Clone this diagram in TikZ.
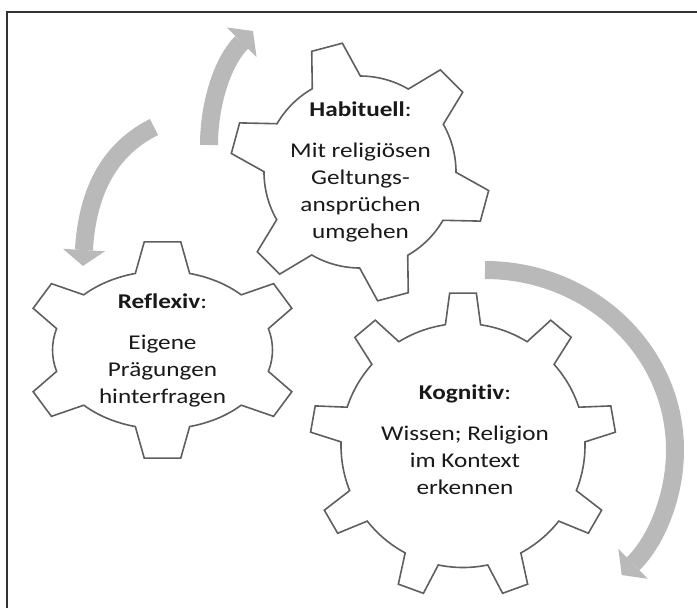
\documentclass[tikz,border=0pt]{standalone}
\usepackage{fontspec}
\setmainfont{Carlito}[FakeStretch=1.2, Ligatures={TeX,NoCommon}]
\usetikzlibrary{arrows.meta}
\definecolor{arrowgray}{RGB}{185,185,185}
\definecolor{gearline}{RGB}{95,95,95}
\definecolor{framecol}{RGB}{50,50,50}
\definecolor{textcol}{RGB}{25,25,25}
% #1 cx, #2 cy, #3 rx, #4 ry, #5 tooth depth, #6 teeth, #7 phase, #8 base half angle, #9 tip half angle
\newcommand\mygear[9]{%
  \draw[gearstyle] ({#1+#3*cos(#7+#8)},{#2-#4*sin(#7+#8)})
  \foreach \k in {1,...,#6}{
    -- ({#1+(#3+#5)*cos(#7-(\k-1)*360/#6+#9)},{#2-(#4+#5)*sin(#7-(\k-1)*360/#6+#9)})
    -- ({#1+(#3+#5)*cos(#7-(\k-1)*360/#6-#9)},{#2-(#4+#5)*sin(#7-(\k-1)*360/#6-#9)})
    -- ({#1+#3*cos(#7-(\k-1)*360/#6-#8)},{#2-#4*sin(#7-(\k-1)*360/#6-#8)})
    arc[start angle={-(#7-(\k-1)*360/#6-#8)}, end angle={-(#7-\k*360/#6+#8)}, x radius=#3, y radius=#4]
  } -- cycle;
}
\begin{document}
\begin{tikzpicture}[x=0.75pt,y=-0.75pt,
  gearstyle/.style={draw=gearline, line width=1.2pt, fill=white, line join=miter},
  arrowstyle/.style={arrowgray, line width=13.5pt, -{Triangle[width=31.5pt,length=12pt,line width=0pt]}},
  gtext/.style={align=center, inner sep=0pt, text=textcol, font=\fontsize{15.75pt}{20.25pt}\selectfont},
  frameline/.style={draw=framecol, line width=1.9pt}]
\useasboundingbox (0,0) rectangle (697,608);
% frame
\coordinate (fbl) at (7,608);
\coordinate (ftl) at (7,12);
\coordinate (ftr) at (697,12);
\draw[frameline] (fbl) -- (ftl) -- (ftr);
% arrows
\coordinate (a1s) at (209,145);
\coordinate (a1e) at (253,31);
\draw[arrowstyle] (a1s) .. controls (209,105) and (222,62) .. (a1e);
\coordinate (a2s) at (154,127);
\coordinate (a2e) at (83,266);
\draw[arrowstyle] (a2s) .. controls (118,145) and (88,180) .. (a2e);
\coordinate (a3s) at (485,270);
\draw[arrowstyle] (a3s) arc[start angle=-90, end angle=44, x radius=190, y radius=180];
% gears
\mygear{360}{172}{96}{96}{34}{6}{104.8}{15}{7}
\mygear{162.5}{350}{110}{79}{30}{6}{90}{14.3}{7.5}
\mygear{463}{445.5}{122}{122}{31}{9}{90}{8.3}{5}
% texts (anchor base = baseline of the last line)
\node[gtext, anchor=base] (habituell) at (360.5,238)
  {\textbf{Habituell}:\\[10.5pt]Mit religiösen\\Geltungs-\\ansprüchen\\umgehen};
\node[gtext, anchor=base] (reflexiv) at (162.5,403)
  {\textbf{Reflexiv}:\\[10.5pt]Eigene\\Prägungen\\hinterfragen};
\node[gtext, anchor=base] (kognitiv) at (465,494)
  {\textbf{Kognitiv}:\\[10.5pt]Wissen; Religion\\im Kontext\\erkennen};
\end{tikzpicture}
\end{document}
